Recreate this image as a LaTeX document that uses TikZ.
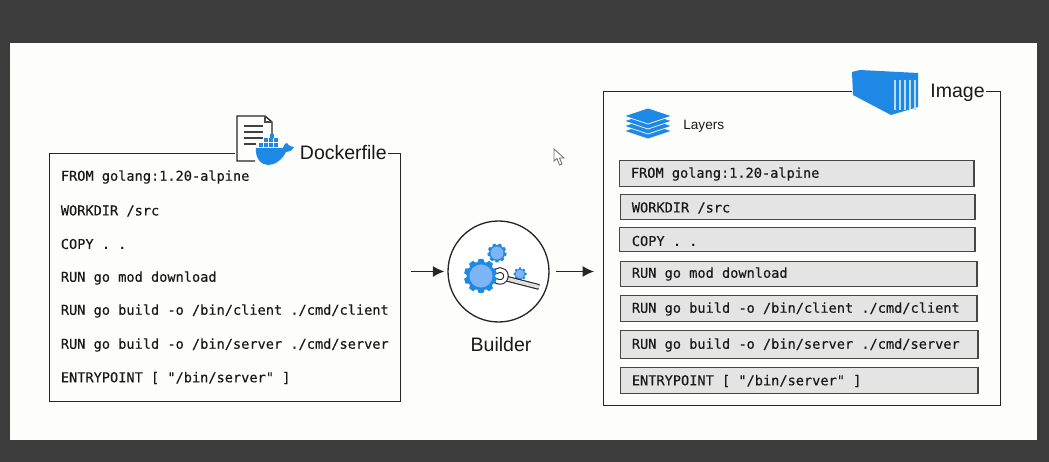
\documentclass[tikz,border=0pt]{standalone}
\usepackage{fontspec}
\setmainfont{Liberation Sans}
\newfontfamily\codefont[FakeBold=0.3]{DejaVu Sans Mono}
\usetikzlibrary{arrows.meta,positioning,calc}
\definecolor{slidebg}{RGB}{60,60,60}
\definecolor{paper}{RGB}{253,253,252}
\definecolor{dockerblue}{RGB}{30,136,229}
\definecolor{gearlight}{RGB}{125,180,245}
\definecolor{layergray}{RGB}{228,228,228}
\newcommand{\px}{0.02cm}
% gear icon: centre, outer radius, teeth
\newcommand{\geartoothed}[3]{%
  \fill[dockerblue] (#1) circle ({0.84*#2});
  \foreach \a in {1,...,#3}{
    \fill[dockerblue, shift={(#1)}, rotate=\a*360/#3]
      (-0.22*#2,0.78*#2) -- (-0.14*#2,#2) -- (0.14*#2,#2) -- (0.22*#2,0.78*#2) -- cycle;
  }
  \fill[gearlight] (#1) circle ({0.68*#2});
}
\begin{document}
\begin{tikzpicture}[
    x=\px, y=-\px,
    frame/.style={draw=black!85, line width=0.75pt, minimum width=#1*\px, anchor=north west, inner sep=0pt},
    codeline/.style={font=\codefont\fontsize{7.75}{9}\selectfont, text=black!90, anchor=west, inner sep=0pt},
    layerbar/.style={draw=black!72, line width=0.85pt, fill=layergray, anchor=north west,
                     minimum width=#1*\px, inner sep=0pt},
    title/.style={font=\fontsize{11.1}{13}\selectfont, text=black!90, inner sep=0pt},
    arr/.style={-{Latex[length=2.3mm,width=2.2mm]}, line width=0.7pt, draw=black!85},
    gap/.style={fill=paper, inner sep=0pt, anchor=north west}
]
% slide
\fill[slidebg] (0,0) rectangle (1049,462);
\fill[paper] (10,43) rectangle (1037,440);
\useasboundingbox (0,0) rectangle (1049,462);

% Dockerfile side
\node[frame=351, minimum height=248*\px] (dockerbox) at (49,153) {};
\node[gap, minimum width=153*\px, minimum height=40*\px] (dockergap) at (235,128) {};
\node[title, anchor=east] (dockertitle) at (387,153) {Dockerfile};
\node[codeline] (d1) at (60.5,177) {FROM golang:1.20-alpine};
\node[codeline] (d2) at (60.5,211) {WORKDIR /src};
\node[codeline] (d3) at (60.5,244) {COPY . .};
\node[codeline] (d4) at (60.5,278) {RUN go mod download};
\node[codeline] (d5) at (60.5,311) {RUN go build -o /bin/client ./cmd/client};
\node[codeline] (d6) at (60.5,345) {RUN go build -o /bin/server ./cmd/server};
\node[codeline] (d7) at (60.5,378) {ENTRYPOINT [ "/bin/server" ]};

% document + whale
\draw[black!85, line width=0.75pt, fill=paper] (255,161) -- (237,161) -- (237,116) -- (265,116)
    -- (272,122) -- (272,142);
\draw[black!70, line width=0.7pt] (265,116) -- (265,122) -- (272,122);
\draw[black!75, line width=0.8pt] (244,126) -- (263,126) (244,132) -- (263,132)
    (244,138) -- (263,138) (244,144) -- (256,144);
\fill[dockerblue] (256,148) -- (283,148) .. controls (284,144) and (286,143) .. (287,143)
    .. controls (289,146) and (291,147) .. (294,147) .. controls (292,151) and (289,152) .. (286,152)
    .. controls (282,160) and (275,165) .. (268,165) .. controls (261,165) and (255,158) .. (256,148) -- cycle;
\foreach \bx/\by in {259/143,264/143,269/143,274/143,264/138.5,269/138.5,274/138.5,270/134}{
  \fill[dockerblue] (\bx,\by) rectangle +(4,4);
}

% Builder
\node[draw=black!85, circle, line width=0.75pt, minimum size=101*\px, inner sep=0pt, fill=white] (builder) at (498.5,271.5) {};
\node[title, below=14*\px of builder, xshift=2.5*\px] (buildertxt) {Builder};
\geartoothed{481,276}{17}{10}
\geartoothed{497,253}{9.5}{9}
\geartoothed{520,274}{6.5}{8}
\draw[black!85, line width=3.3pt] (504,278) -- (539,287);
\draw[black!12, line width=2pt, line cap=round] (504,278) -- (538,286.7);
\draw[black!85, line width=3.1pt] ([shift={(130:6)}]500,276) arc[start angle=130, end angle=-130, radius=6];
\draw[white, line width=1.9pt] ([shift={(130:6)}]500,276) arc[start angle=130, end angle=-130, radius=6];

% Image side
\node[frame=397, minimum height=314*\px] (imagebox) at (603,91) {};
\node[gap, minimum width=134*\px, minimum height=40*\px] (imagegap) at (852,70) {};
\node[title, anchor=east] (imagetitle) at (985,93) {Image};

% container
\fill[dockerblue] (852,72) -- (860,70) -- (918,73) -- (918,107) -- (891,115) -- (853,95) -- cycle;
\foreach \rib in {895,900,905,910,915}{
  \draw[white!70!dockerblue, line width=0.6pt] (\rib,80) -- (\rib,110);
}

% layers icon + label
\foreach \ly in {131,126,121,116}{
  \draw[white, line width=0.4pt, fill=dockerblue] (624,\ly) -- (648,\ly-8) -- (672,\ly) -- (648,\ly+8) -- cycle;
}
\node[font=\fontsize{7.75}{9}\selectfont, text=black!90, anchor=west, inner sep=0pt] (layerstxt) at (683,126) {Layers};

% layers
\node[layerbar=354, minimum height=26*\px] (l1) at (619,160) {};
\node[layerbar=354, minimum height=25*\px] (l2) at (620,194) {};
\node[layerbar=355, minimum height=24*\px] (l3) at (619,227) {};
\node[layerbar=356, minimum height=25*\px] (l4) at (620,261) {};
\node[layerbar=356, minimum height=26*\px] (l5) at (620,295) {};
\node[layerbar=357, minimum height=28*\px] (l6) at (620,330) {};
\node[layerbar=357, minimum height=26*\px] (l7) at (620,367) {};
\node[codeline] at (630.5,174) {FROM golang:1.20-alpine};
\node[codeline] at (631.5,208) {WORKDIR /src};
\node[codeline] at (631.5,241) {COPY . .};
\node[codeline] at (631.5,274) {RUN go mod download};
\node[codeline] at (631.5,309) {RUN go build -o /bin/client ./cmd/client};
\node[codeline] at (631.5,345) {RUN go build -o /bin/server ./cmd/server};
\node[codeline] at (631.5,381) {ENTRYPOINT [ "/bin/server" ]};

% arrows
\draw[arr, shorten <=10*\px, shorten >=3*\px] (dockerbox.east |- builder) -- (builder);
\draw[arr, shorten <=6*\px, shorten >=9*\px] (builder) -- (imagebox.west |- builder);

% pointer
\draw[black!55, line width=0.5pt, fill=white] (554,149) -- (554,161) -- (557,158.5) -- (559.5,165) -- (562,164) -- (559.5,158) -- (564,158) -- cycle;
\end{tikzpicture}
\end{document}
